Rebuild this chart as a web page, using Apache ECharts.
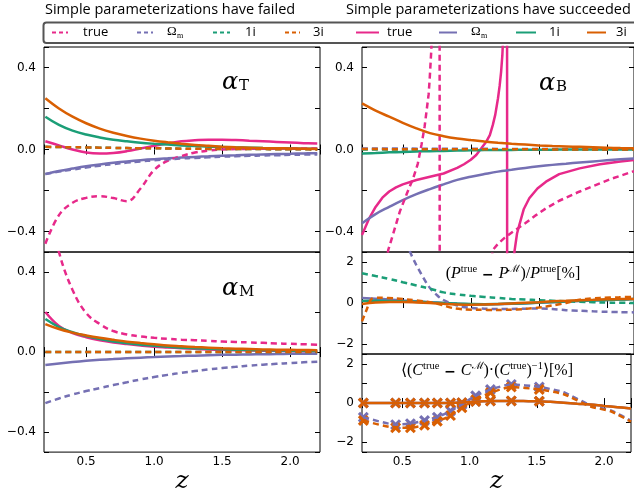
<!DOCTYPE html>
<html>
<head>
<meta charset="utf-8">
<script src="https://cdn.jsdelivr.net/npm/echarts@6/dist/echarts.min.js"></script>
<style>html,body{margin:0;padding:0;background:#fff}#main{width:634px;height:495px}</style>
</head>
<body>
<div id="main"></div>
<script>
// redshift grid for the smooth curves
const Z = [0.2,0.3,0.4,0.5,0.6,0.7,0.8,0.9,1.0,1.1,1.2,1.3,1.4,1.5,1.6,1.7,1.8,1.9,2.0,2.1,2.2];
const FLAT_Z = [0.2, 2.2];

// alpha_T
const aT_true_sol = [0.04,0.02,0.0,-0.015,-0.02,-0.017,-0.008,0.005,0.018,0.03,0.04,0.045,0.048,0.048,0.046,0.043,0.04,0.037,0.034,0.031,0.029];
const aT_om_sol = [-0.12,-0.105,-0.093,-0.082,-0.073,-0.065,-0.058,-0.052,-0.047,-0.043,-0.039,-0.036,-0.033,-0.03,-0.028,-0.026,-0.024,-0.022,-0.021,-0.019,-0.018];
const aT_1i_sol = [0.16,0.12,0.092,0.073,0.059,0.048,0.04,0.033,0.028,0.024,0.02,0.017,0.014,0.012,0.01,0.009,0.007,0.006,0.005,0.004,0.004];
const aT_3i_sol = [0.25,0.2,0.16,0.128,0.102,0.082,0.066,0.053,0.043,0.035,0.028,0.022,0.018,0.014,0.011,0.009,0.007,0.006,0.005,0.004,0.003];
const aT_true_dash = [-0.46,-0.32,-0.26,-0.236,-0.228,-0.237,-0.252,-0.19,-0.1,-0.055,-0.032,-0.015,-0.005,0.0,0.002,0.003,0.004,0.004,0.005,0.005,0.005];
const aT_om_dash = [-0.12,-0.108,-0.098,-0.088,-0.079,-0.071,-0.064,-0.058,-0.053,-0.048,-0.044,-0.041,-0.038,-0.035,-0.033,-0.031,-0.029,-0.028,-0.026,-0.025,-0.024];
const aT_1i_dash = [0.013,0.012,0.011,0.01,0.009,0.008,0.007,0.006,0.006,0.005,0.004,0.004,0.003,0.003,0.002,0.002,0.002,0.001,0.001,0.001,0.0];
const aT_3i_dash = [0.013,0.012,0.011,0.01,0.009,0.008,0.007,0.006,0.006,0.005,0.004,0.004,0.003,0.003,0.002,0.002,0.002,0.001,0.001,0.001,0.0];

// alpha_M
const aM_true_sol = [0.2,0.13,0.095,0.074,0.059,0.048,0.04,0.033,0.027,0.023,0.019,0.016,0.013,0.011,0.009,0.008,0.007,0.006,0.005,0.004,0.004];
const aM_om_sol = [-0.065,-0.057,-0.05,-0.044,-0.039,-0.035,-0.031,-0.028,-0.025,-0.022,-0.02,-0.018,-0.016,-0.014,-0.013,-0.012,-0.011,-0.01,-0.009,-0.008,-0.008];
const aM_1i_sol = [0.165,0.125,0.099,0.08,0.065,0.053,0.044,0.037,0.031,0.026,0.022,0.019,0.016,0.014,0.012,0.01,0.009,0.008,0.007,0.006,0.005];
const aM_3i_sol = [0.14,0.115,0.097,0.083,0.071,0.061,0.052,0.045,0.039,0.033,0.029,0.025,0.022,0.019,0.017,0.015,0.013,0.012,0.011,0.01,0.009];
const aM_true_dash = [0.8,0.5,0.31,0.195,0.14,0.105,0.088,0.078,0.071,0.066,0.062,0.059,0.056,0.053,0.05,0.048,0.046,0.043,0.041,0.039,0.037];
const aM_om_dash = [-0.255,-0.232,-0.212,-0.195,-0.18,-0.165,-0.151,-0.137,-0.125,-0.114,-0.104,-0.095,-0.087,-0.08,-0.074,-0.068,-0.063,-0.059,-0.055,-0.051,-0.048];
const aM_1i_dash = [0.0, 0.0];
const aM_3i_dash = [0.0, 0.0];

// alpha_B
const aB_om_sol = [-0.36,-0.315,-0.28,-0.247,-0.218,-0.193,-0.17,-0.148,-0.133,-0.12,-0.108,-0.099,-0.09,-0.082,-0.075,-0.069,-0.063,-0.058,-0.053,-0.048,-0.044];
const aB_1i_sol = [-0.019,-0.017,-0.014,-0.012,-0.01,-0.008,-0.007,-0.005,-0.004,-0.003,-0.002,-0.002,-0.001,-0.001,-0.001,0.0,0.0,0.0,0.0,0.0,0.0];
const aB_3i_sol = [0.225,0.19,0.16,0.13,0.103,0.08,0.065,0.054,0.046,0.039,0.033,0.028,0.024,0.02,0.017,0.015,0.013,0.011,0.009,0.007,0.006];
const aB_true_sol_z = [0.2,0.25,0.3,0.35,0.4,0.45,0.5,0.6,0.7,0.8,0.9,0.95,1.0,1.04,1.08,1.114,1.14,1.162,1.18,1.2,1.212,1.223,1.232,1.238,1.245,1.25,1.266,1.268,1.31,1.321,1.34,1.357,1.39,1.43,1.49,1.553,1.65,1.8,1.95,2.1,2.2];
const aB_true_sol_v = [-0.417,-0.34,-0.28,-0.235,-0.205,-0.185,-0.17,-0.149,-0.133,-0.117,-0.09,-0.072,-0.05,-0.027,0.008,0.038,0.07,0.12,0.17,0.25,0.31,0.38,0.46,0.55,0.8,2.0,2.0,-2.0,-0.7,-0.498,-0.41,-0.368,-0.29,-0.238,-0.19,-0.157,-0.12,-0.092,-0.072,-0.058,-0.051];
const aB_true_dash_z = [0.37,0.393,0.43,0.478,0.53,0.576,0.61,0.637,0.66,0.674,0.69,0.698,0.71,0.72,0.73,0.77,0.772,1.12,1.162,1.2,1.25,1.309,1.4,1.48,1.553,1.65,1.797,1.9,2.041,2.2];
const aB_true_dash_v = [-0.6,-0.49,-0.41,-0.303,-0.215,-0.141,-0.07,0.022,0.11,0.184,0.27,0.347,0.49,0.7,2.0,2.0,-2.0,-0.7,-0.49,-0.46,-0.43,-0.401,-0.36,-0.32,-0.287,-0.25,-0.206,-0.178,-0.141,-0.106];
const aB_om_dash = [0.005, 0.001];
const aB_1i_dash = [0.0, 0.0];
const aB_3i_dash = [0.002, 0.0];

// (P_true - P_M)/P_true [%]
const P_om_dash_z = [0.2,0.4,0.5,0.552,0.6,0.625,0.674,0.71,0.747,0.78,0.82,0.87,0.918,1.0,1.1,1.2,1.3,1.4,1.5,1.6,1.7,1.8,1.9,2.0,2.1,2.2];
const P_om_dash_v = [9,5,3.4,2.52,1.85,1.55,0.98,0.65,0.41,0.22,0.08,-0.05,-0.16,-0.24,-0.28,-0.29,-0.29,-0.28,-0.27,-0.3,-0.35,-0.38,-0.41,-0.43,-0.45,-0.46];
const P_1i_dash = [1.46,1.32,1.18,1.02,0.86,0.7,0.52,0.42,0.35,0.3,0.25,0.2,0.17,0.14,0.11,0.08,0.06,0.04,0.02,0.01,0.0];
const P_3i_dash_z = [0.2,0.234,0.27,0.33,0.45,0.552,0.65,0.747,0.8,0.869,0.95,1.04,1.2,1.284,1.4,1.528,1.6,1.7,1.77,1.846,1.95,2.09,2.2];
const P_3i_dash_v = [-0.9,-0.33,0.2,0.26,0.22,0.16,0.08,-0.02,-0.12,-0.25,-0.31,-0.33,-0.34,-0.33,-0.29,-0.2,-0.12,0.0,0.12,0.2,0.25,0.28,0.3];
const P_om_sol = [0.24,0.21,0.17,0.12,0.08,0.04,0.0,-0.04,-0.06,-0.07,-0.06,-0.04,-0.02,0.01,0.04,0.07,0.1,0.13,0.15,0.17,0.19];
const P_1i_sol = [0.1,0.11,0.1,0.08,0.06,0.03,0.0,-0.03,-0.05,-0.06,-0.05,-0.03,-0.01,0.02,0.05,0.08,0.11,0.13,0.15,0.17,0.19];
const P_3i_sol = [-0.05,0.02,0.05,0.05,0.03,0.0,-0.04,-0.07,-0.08,-0.07,-0.05,-0.02,0.01,0.04,0.08,0.11,0.14,0.16,0.18,0.19,0.2];

// <(C_true - C_M)(C_true)^-1> [%], redshift bins with markers
const C_bins = [0.21,0.45,0.56,0.665,0.76,0.858,0.943,1.045,1.155,1.31,1.518];
const C_om_dash_pts = [-0.72,-1.1,-1.05,-0.89,-0.72,-0.4,-0.07,0.37,0.69,0.95,0.82];
const C_3i_dash_pts = [-0.89,-1.26,-1.26,-1.13,-0.93,-0.64,-0.24,0.17,0.53,0.82,0.69];
const C_sol_pts = [0.0,0.0,0.0,0.0,0.0,0.0,0.02,0.08,0.11,0.11,0.09];
const C_ext_z = [1.7,1.9,2.05,2.2];
const C_om_ext = [0.55,-0.12,-0.38,-0.9];
const C_3i_ext = [0.45,-0.18,-0.42,-0.95];
const C_sol = [0.0,0.0,0.0,0.0,0.0,0.0,0.005,0.015,0.05,0.09,0.11,0.11,0.1,0.09,0.06,0.02,-0.03,-0.08,-0.15,-0.21,-0.28];

const COL = { tr: '#e7298a', om: '#7570b3', i1: '#1b9e77', i3: '#d95f02' };
const DASH = [6, 4];
const CROSS = 'path://M0,2L2,0L5,3L8,0L10,2L7,5L10,8L8,10L5,7L2,10L0,8L3,5Z';

const grids = [
  { left: 44, top: 47, width: 276, height: 205 },   // alpha_T
  { left: 44, top: 252, width: 276, height: 205 },  // alpha_M
  { left: 362, top: 47, width: 273, height: 205 },  // alpha_B
  { left: 362, top: 252, width: 273, height: 102 }, // P
  { left: 362, top: 354, width: 273, height: 103 }  // C
];
const xRange = [[0.19, 2.22], [0.19, 2.22], [0.2, 2.2], [0.2, 2.2], [0.2, 2.2]];
const yRange = [[-0.5, 0.5], [-0.5, 0.5], [-0.5, 0.5], [-2.5, 2.5], [-2.5, 2.5]];
const xLab = [false, true, false, false, true];

const minus = v => (v < 0 ? '\u2212' : '');
function fmtAlpha(v) {
  const k = Math.round(v * 10);
  if (Math.abs(v * 10 - k) > 1e-6 || k % 4 !== 0) return '';
  return minus(v) + Math.abs(v).toFixed(1);
}
function fmtPct(v) {
  const k = Math.round(v);
  if (Math.abs(v - k) > 1e-6 || k % 2 !== 0) return '';
  return minus(v) + Math.abs(k);
}
function fmtZ(v) {
  const k = Math.round(v * 2);
  if (Math.abs(v * 2 - k) > 1e-6) return '';
  return v.toFixed(1);
}

const tick = { show: true, inside: true, length: 5, lineStyle: { color: '#000', width: 1 } };
const xAxis = [], yAxis = [];
grids.forEach((g, i) => {
  ['bottom', 'top'].forEach(pos => {
    xAxis.push({
      type: 'value', gridIndex: i, position: pos, min: xRange[i][0], max: xRange[i][1], splitNumber: 4,
      axisLine: { show: false }, axisTick: tick, splitLine: { show: false },
      axisLabel: { show: pos === 'bottom' && xLab[i], formatter: fmtZ, margin: 4,
        color: '#000', fontFamily: 'DejaVu Sans', fontSize: 12 },
      name: pos === 'bottom' && xLab[i] ? 'z' : '', nameLocation: 'middle', nameGap: 15,
      nameTextStyle: { fontFamily: 'DejaVu Serif', fontStyle: 'italic', fontSize: 25, color: '#000' }
    });
  });
  ['left', 'right'].forEach(pos => {
    yAxis.push({
      type: 'value', gridIndex: i, position: pos, min: yRange[i][0], max: yRange[i][1], splitNumber: 5,
      axisLine: { show: false }, axisTick: tick, splitLine: { show: false },
      axisLabel: { show: pos === 'left', formatter: i < 3 ? fmtAlpha : fmtPct, margin: 8,
        color: '#000', fontFamily: 'DejaVu Sans', fontSize: 12 }
    });
  });
});

function pairs(zs, vs) { return zs.map((z, k) => [z, vs[k]]); }
function curve(g, color, dashed, zs, vs, smooth) {
  return {
    type: 'line', xAxisIndex: 2 * g, yAxisIndex: 2 * g, data: pairs(zs, vs),
    showSymbol: false, symbol: 'none', smooth: smooth === undefined ? 0.4 : smooth,
    lineStyle: { color: color, width: 2.5, type: dashed ? DASH : 'solid', cap: 'butt' },
    itemStyle: { color: color }, silent: true, clip: true
  };
}
function crosses(g, color, zs, vs) {
  return {
    type: 'scatter', xAxisIndex: 2 * g, yAxisIndex: 2 * g, data: pairs(zs, vs),
    symbol: CROSS, symbolSize: 11, itemStyle: { color: color, opacity: 1 }, silent: true, clip: true
  };
}

const series = [
  // alpha_T
  curve(0, COL.tr, false, Z, aT_true_sol),
  curve(0, COL.om, false, Z, aT_om_sol),
  curve(0, COL.i1, false, Z, aT_1i_sol),
  curve(0, COL.tr, true, Z, aT_true_dash),
  curve(0, COL.om, true, Z, aT_om_dash),
  curve(0, COL.i1, true, Z, aT_1i_dash),
  curve(0, COL.i3, true, Z, aT_3i_dash),
  curve(0, COL.i3, false, Z, aT_3i_sol),
  // alpha_M
  curve(1, COL.tr, false, Z, aM_true_sol),
  curve(1, COL.om, false, Z, aM_om_sol),
  curve(1, COL.i1, false, Z, aM_1i_sol),
  curve(1, COL.tr, true, Z, aM_true_dash),
  curve(1, COL.om, true, Z, aM_om_dash),
  curve(1, COL.i1, true, FLAT_Z, aM_1i_dash),
  curve(1, COL.i3, true, FLAT_Z, aM_3i_dash),
  curve(1, COL.i3, false, Z, aM_3i_sol),
  // alpha_B
  curve(2, COL.tr, false, aB_true_sol_z, aB_true_sol_v, false),
  curve(2, COL.om, false, Z, aB_om_sol),
  curve(2, COL.i1, false, Z, aB_1i_sol),
  curve(2, COL.tr, true, aB_true_dash_z, aB_true_dash_v, false),
  curve(2, COL.om, true, FLAT_Z, aB_om_dash),
  curve(2, COL.i1, true, FLAT_Z, aB_1i_dash),
  curve(2, COL.i3, true, FLAT_Z, aB_3i_dash),
  curve(2, COL.i3, false, Z, aB_3i_sol),
  // P
  curve(3, COL.om, false, Z, P_om_sol),
  curve(3, COL.i1, false, Z, P_1i_sol),
  curve(3, COL.om, true, P_om_dash_z, P_om_dash_v, 0.3),
  curve(3, COL.i1, true, Z, P_1i_dash),
  curve(3, COL.i3, true, P_3i_dash_z, P_3i_dash_v, 0.3),
  curve(3, COL.i3, false, Z, P_3i_sol),
  // C
  curve(4, COL.om, false, Z, C_sol),
  curve(4, COL.om, true, C_bins.concat(C_ext_z), C_om_dash_pts.concat(C_om_ext), 0.2),
  curve(4, COL.i3, true, C_bins.concat(C_ext_z), C_3i_dash_pts.concat(C_3i_ext), 0.2),
  curve(4, COL.i3, false, Z, C_sol),
  crosses(4, COL.om, C_bins, C_om_dash_pts),
  crosses(4, COL.om, C_bins, C_sol_pts),
  crosses(4, COL.i3, C_bins, C_3i_dash_pts),
  crosses(4, COL.i3, C_bins, C_sol_pts)
];

// legend drawn as graphics (two groups with the same labels)
const legItems = [
  { c: COL.tr, d: true, x1: 52, x2: 68, tx: 83, t: 'true' },
  { c: COL.om, d: true, x1: 137, x2: 153, tx: 167, t: 'om' },
  { c: COL.i1, d: true, x1: 213, x2: 230, tx: 245, t: '1i' },
  { c: COL.i3, d: true, x1: 285, x2: 300, tx: 313, t: '3i' },
  { c: COL.tr, d: false, x1: 356, x2: 379, tx: 387, t: 'true' },
  { c: COL.om, d: false, x1: 439, x2: 457, tx: 471, t: 'om' },
  { c: COL.i1, d: false, x1: 516, x2: 536, tx: 549, t: '1i' },
  { c: COL.i3, d: false, x1: 587, x2: 606, tx: 616, t: '3i' }
];
const graphic = [
  { type: 'text', left: 45, top: 2, style: { text: 'Simple parameterizations have failed', fontFamily: 'Open Sans', fontSize: 14.5, fill: '#000' } },
  { type: 'text', left: 346, top: 2, style: { text: 'Simple parameterizations have succeeded', fontFamily: 'Open Sans', fontSize: 14.5, fill: '#000' } },
  { type: 'rect', shape: { x: 43.5, y: 22.5, width: 620, height: 20.5, r: 3 }, style: { fill: '#fff', stroke: '#555', lineWidth: 2 } }
];
legItems.forEach(it => {
  graphic.push({ type: 'line', shape: { x1: it.x1, y1: 32.5, x2: it.x2, y2: 32.5 },
    style: { stroke: it.c, lineWidth: 2, lineDash: it.d ? [4, 3] : null } });
  if (it.t === 'om') {
    graphic.push({ type: 'text', x: it.tx, y: 32, style: { text: '\u03A9', fontFamily: 'Liberation Serif', fontSize: 13, fill: '#000', verticalAlign: 'middle' } });
    graphic.push({ type: 'text', x: it.tx + 10, y: 36, style: { text: 'm', fontFamily: 'Liberation Serif', fontSize: 8, fill: '#000', verticalAlign: 'middle' } });
  } else {
    graphic.push({ type: 'text', x: it.tx, y: 32, style: { text: it.t, fontFamily: 'Open Sans', fontSize: 13, fill: '#000', verticalAlign: 'middle' } });
  }
});
// panel labels
[[222, 83, 'T'], [222, 289, 'M'], [539, 84, 'B']].forEach(p => {
  graphic.push({ type: 'text', x: p[0], y: p[1], style: { text: '\u03B1', fontFamily: 'DejaVu Serif', fontStyle: 'italic', fontSize: 24, fill: '#000', verticalAlign: 'middle' } });
  graphic.push({ type: 'text', x: p[0] + 17, y: p[1] + 3, style: { text: p[2], fontFamily: 'DejaVu Serif', fontSize: 15, fill: '#000', verticalAlign: 'middle' } });
});
const rich = {
  rm: { fontFamily: 'Liberation Serif', fontSize: 16, verticalAlign: 'bottom', lineHeight: 18 },
  it: { fontFamily: 'Liberation Serif', fontStyle: 'italic', fontSize: 16, verticalAlign: 'bottom', lineHeight: 18 },
  sup: { fontFamily: 'Liberation Serif', fontSize: 10.5, verticalAlign: 'top', lineHeight: 8 },
  mn: { fontFamily: 'DejaVu Sans', fontWeight: 'bold', fontSize: 14, verticalAlign: 'bottom', lineHeight: 18 }
};
graphic.push({ type: 'text', x: 513, y: 273, style: {
  text: '{rm|(}{it|P}{sup|true}{mn| \u2212 }{it|P}{sup|\u2133}{rm|)/}{it|P}{sup|true}{rm|[%]}',
  rich: rich, align: 'center', verticalAlign: 'middle', fill: '#000' } });
graphic.push({ type: 'text', x: 487, y: 370, style: {
  text: '{rm|\u27E8(}{it|C}{sup|true}{mn| \u2212 }{it|C}{sup|\u2133}{rm|)\u00B7(}{it|C}{sup|true}{rm|)}{sup|\u22121}{rm|\u27E9[%]}',
  rich: rich, align: 'center', verticalAlign: 'middle', fill: '#000' } });

const myChart = echarts.init(document.getElementById('main'));
myChart.setOption({
  animation: false,
  grid: grids.map(g => Object.assign({ show: true, borderColor: '#000', borderWidth: 1, backgroundColor: 'transparent' }, g)),
  xAxis: xAxis,
  yAxis: yAxis,
  series: series,
  graphic: graphic
});
</script>
</body>
</html>
